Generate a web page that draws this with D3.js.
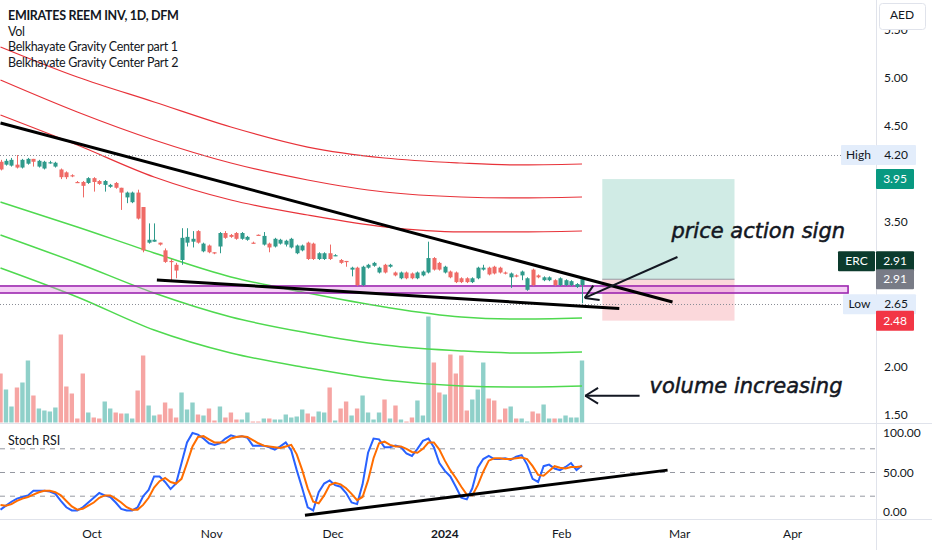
<!DOCTYPE html>
<html><head><meta charset="utf-8">
<script src="https://cdn.jsdelivr.net/npm/d3@7"></script>
<style>body{margin:0;background:#fff;overflow:hidden}svg{display:block}</style>
</head><body><svg id="c" width="932" height="550"></svg>
<script>
// ---------------- DATA ----------------
const opens=[4.13,4.10,4.09,4.10,4.07,4.11,4.16,4.08,4.06,4.12,4.08,4.05,4.02,3.99,3.92,3.92,3.91,3.96,3.93,3.89,
3.87,3.91,3.86,3.76,3.71,3.81,3.66,3.29,3.30,3.29,3.21,3.10,3.06,3.11,3.29,3.30,3.41,3.20,3.26,3.19,
3.25,3.39,3.37,3.39,3.33,3.32,3.29,3.372,3.27,3.28,3.25,3.28,3.27,3.24,3.18,3.21,3.29,3.28,3.12,3.12,
3.18,3.16,3.11,3.10,3.01,3.03,2.85,3.03,3.05,2.98,3.06,3.04,2.98,2.92,2.98,2.97,2.92,2.95,2.98,3.13,
3.08,2.98,2.99,2.98,2.92,2.92,2.88,2.92,3.01,3.03,3.04,3.03,2.98,2.93,2.95,2.95,2.80,3.01,2.95,2.90,
2.90,2.90,2.85,2.85,2.85,2.83,2.85];
const highs=[4.15,4.16,4.17,4.20,4.16,4.17,4.16,4.15,4.14,4.14,4.13,4.06,4.03,4.00,3.93,3.93,3.97,3.97,3.94,3.94,
3.90,3.92,3.86,3.82,3.82,3.84,3.66,3.49,3.49,3.29,3.23,3.12,3.08,3.44,3.44,3.41,3.42,3.29,3.27,3.19,
3.40,3.41,3.38,3.40,3.40,3.36,3.30,3.375,3.40,3.29,3.34,3.33,3.32,3.34,3.27,3.27,3.30,3.29,3.19,3.19,
3.27,3.17,3.12,3.10,3.04,3.04,3.05,3.07,3.09,3.04,3.07,3.07,2.99,2.99,2.99,2.98,2.99,3.00,3.30,3.14,
3.09,3.05,3.00,2.99,2.93,2.93,2.93,3.04,3.06,3.04,3.05,3.04,2.99,2.98,2.96,3.00,2.93,3.02,2.96,2.94,
2.94,2.91,2.93,2.91,2.90,2.87,2.93];
const lows=[4.04,4.09,4.08,4.06,4.06,4.10,4.08,4.07,4.05,4.11,4.07,3.95,3.95,3.97,3.91,3.76,3.90,3.82,3.89,3.82,
3.86,3.85,3.63,3.70,3.70,3.53,3.19,3.28,3.30,3.26,3.08,2.90,2.92,3.06,3.25,3.24,3.28,3.19,3.18,3.17,
3.18,3.33,3.34,3.32,3.32,3.31,3.28,3.365,3.26,3.19,3.24,3.27,3.25,3.23,3.17,3.20,3.11,3.11,3.11,3.11,
3.11,3.15,3.07,3.04,2.94,2.84,2.84,3.02,3.04,2.97,2.97,3.03,2.94,2.91,2.91,2.91,2.91,2.94,2.97,3.00,
3.00,2.97,2.92,2.87,2.87,2.87,2.87,2.91,3.00,2.95,2.96,2.97,2.96,2.82,2.93,2.90,2.79,2.84,2.92,2.89,
2.89,2.84,2.84,2.84,2.84,2.82,2.66];
const closes=[4.05,4.14,4.15,4.07,4.15,4.16,4.13,4.14,4.13,4.125,4.12,3.97,3.97,3.98,3.91,3.88,3.96,3.92,3.90,3.93,
3.89,3.86,3.81,3.81,3.81,3.54,3.21,3.32,3.32,3.27,3.09,3.09,3.00,3.34,3.35,3.33,3.29,3.28,3.19,3.18,
3.39,3.34,3.35,3.33,3.39,3.35,3.28,3.368,3.36,3.24,3.33,3.32,3.31,3.33,3.26,3.26,3.12,3.12,3.18,3.18,
3.12,3.16,3.08,3.09,3.03,2.85,3.04,3.06,3.08,3.03,2.98,3.06,2.95,2.98,2.92,2.92,2.98,2.99,3.13,3.01,
3.01,3.04,2.93,2.88,2.88,2.88,2.92,3.03,3.03,2.96,2.97,2.98,2.97,2.97,2.94,2.99,2.92,2.85,2.93,2.93,
2.93,2.85,2.92,2.90,2.89,2.86,2.91];
const volumes=[49,33,16,35,40,62,27,14,12,11,15,88,36,29,4,49,10,5,4,21,
14,10,9,9,4,32,67,17,7,8,20,14,5,30,13,20,8,7,14,2,
16,5,10,3,3,10,1,1,4,4,3,3,8,5,6,13,9,6,11,10,
35,2,14,21,7,14,27,10,3,10,23,4,17,3,1,5,22,7,106,60,
30,28,68,49,67,12,23,33,60,24,22,3,14,16,4,4,1,11,9,18,
4,4,4,7,5,5,62];
const stochK=[3,8,13,17,19,21,27,27,27,26,23,14,6,2,2,6,12,18,24,21,
19,12,4,2,2,6,20,28,45,45,38,29,36,62,88,100,98,93,87,85,
87,93,97,95,96,94,84,84,84,82,79,83,88,78,53,30,6,2,25,36,
40,34,32,24,12,10,35,75,93,92,82,82,84,82,74,71,80,90,93,82,
62,52,45,32,18,16,30,56,67,71,67,67,68,66,70,72,60,42,38,58,
60,55,53,57,62,53,59];
const stochD=[9,8,10,14,17,19,22,25,27,27,25,21,14,7,3,4,8,12,18,21,
21,17,12,6,3,3,9,18,31,39,43,38,36,42,62,83,95,96,92,88,
88,88,93,95,96,95,91,87,84,83,82,81,83,85,73,53,30,13,11,21,
34,37,35,30,23,15,19,40,68,87,89,85,83,83,80,76,75,80,88,88,
79,65,53,43,32,22,21,34,51,65,68,68,67,67,68,69,67,58,47,46,
52,58,56,55,57,57,58];
// Belkhayate gravity center bands (sampled at bar indices)
const gcBars=[0,14,28,42,56,70,84,94,106];
const gcRed1=[5.322,5.010,4.751,4.491,4.283,4.169,4.117,4.097,4.107];
const gcRed2=[4.979,4.647,4.356,4.117,3.941,3.816,3.764,3.754,3.764];
const gcRed3=[4.616,4.304,3.972,3.733,3.577,3.453,3.401,3.401,3.411];
const gcGreen1=[3.712,3.453,3.183,2.934,2.767,2.622,2.518,2.497,2.508];
const gcGreen2=[3.370,3.079,2.767,2.518,2.352,2.227,2.165,2.144,2.155];
const gcGreen3=[3.027,2.726,2.383,2.144,1.989,1.864,1.802,1.791,1.802];
// drawings
const upperTrend=[[0,4.533],[122.5,2.674]];
const lowerTrend=[[28.5,2.902],[112.8,2.606]];
const stochTrend=[[55.5,-4],[121.6,53]];
const zoneTop=2.84, zoneBottom=2.767, zoneBars=[-2,154.5];
const tradeBars=[109.7,133.8], entry=2.91, target=3.95, stop=2.48;
const highValue=4.20, lowValue=2.65, lastClose=2.91;
const priceArrow=[[123.4,3.141],[106.5,2.716]];
const volArrow=[[116.5,1.70],[106.6,1.70]];
const priceText={bar:122.3,p:3.339,text:"price action sign"};
const volText={bar:118.3,p:1.729,text:"volume increasing"};
const timeLabels=["Oct","Nov","Dec","2024","Feb","Mar","Apr"];
const timeBars=[16.7,38.5,60.6,81,102.3,123.8,144.4];
const priceTicks=[5.5,5,4.5,3.5,2,1.5];
const stochTicks=[100,50,0];
const stochLevels=[80,50,20];
const legend=["EMIRATES REEM INV, 1D, DFM","Vol","Belkhayate Gravity Center part 1","Belkhayate Gravity Center Part 2"];

// ---------------- LAYOUT ----------------
const W=932,H=550, plotR=876, mainB=423, stochT=424, stochB=519;
const svg=d3.select("#c");
const font="Lato, 'Noto Sans', sans-serif";
const x=d3.scaleLinear().domain([0,106]).range([0.5,582]);
const y=d3.scaleLinear().domain([1.5,5]).range([415,78]);
const yVol=d3.scaleLinear().domain([0,106]).range([422.5,316.5]);
const yS=d3.scaleLinear().domain([0,100]).range([512,433]);
const up="#2f9a8b", dn="#ef6a66";
const upV="#8fd0c9", dnV="#f6a5a3";

svg.append("rect").attr("width",W).attr("height",H).attr("fill","#fff");
const defs=svg.append("defs");
defs.append("clipPath").attr("id","cm").append("rect").attr("x",0).attr("y",0).attr("width",plotR).attr("height",mainB);
defs.append("clipPath").attr("id","cs").append("rect").attr("x",0).attr("y",stochT).attr("width",plotR).attr("height",stochB-stochT);
defs.append("clipPath").attr("id","ctop").append("rect").attr("x",877).attr("y",30).attr("width",55).attr("height",40);

const main=svg.append("g").attr("clip-path","url(#cm)");
const idx=d3.range(opens.length);
const bw=(x(1)-x(0));

// volume
main.append("g").selectAll("rect").data(idx).join("rect")
 .attr("x",i=>x(i)-bw*0.4).attr("width",bw*0.8)
 .attr("y",i=>yVol(volumes[i])).attr("height",i=>yVol(0)-yVol(volumes[i]))
 .attr("fill",i=>closes[i]>=opens[i]?upV:dnV);

// trade box
main.append("rect").attr("x",x(tradeBars[0])).attr("width",x(tradeBars[1])-x(tradeBars[0]))
 .attr("y",y(target)).attr("height",y(entry)-y(target)).attr("fill","#d0ebe5");
main.append("rect").attr("x",x(tradeBars[0])).attr("width",x(tradeBars[1])-x(tradeBars[0]))
 .attr("y",y(entry)).attr("height",y(stop)-y(entry)).attr("fill","#fbd8db");
main.append("line").attr("x1",x(tradeBars[0])).attr("x2",x(tradeBars[1])).attr("y1",y(entry)).attr("y2",y(entry))
 .attr("stroke","#9598a1").attr("stroke-width",1);

// gravity curves
const gl=d3.line().x((d,i)=>x(gcBars[i])).y(d=>y(d)).curve(d3.curveMonotoneX);
[gcRed1,gcRed2,gcRed3].forEach(s=>main.append("path").attr("d",gl(s)).attr("fill","none").attr("stroke","#e8333a").attr("stroke-width",1.2));
[gcGreen1,gcGreen2,gcGreen3].forEach(s=>main.append("path").attr("d",gl(s)).attr("fill","none").attr("stroke","#4fd94f").attr("stroke-width",1.5));

// dotted hi/lo
[highValue,lowValue].forEach(v=>main.append("line").attr("x1",0).attr("x2",plotR).attr("y1",Math.round(y(v))+0.5).attr("y2",Math.round(y(v))+0.5)
 .attr("stroke","#8a8d96").attr("stroke-width",1).attr("stroke-dasharray","1,2"));

// purple zone
main.append("rect").attr("x",x(zoneBars[0])).attr("width",x(zoneBars[1])-x(zoneBars[0]))
 .attr("y",y(zoneTop)).attr("height",y(zoneBottom)-y(zoneTop))
 .attr("fill","rgba(225,120,230,0.35)").attr("stroke","#9c27b0").attr("stroke-width",1.6);

// candles
const cg=main.append("g");
cg.selectAll("line").data(idx).join("line")
 .attr("x1",i=>Math.round(x(i))+0.5).attr("x2",i=>Math.round(x(i))+0.5)
 .attr("y1",i=>y(highs[i])).attr("y2",i=>y(lows[i]))
 .attr("stroke",i=>closes[i]>=opens[i]?up:dn).attr("stroke-width",1);
cg.selectAll("rect").data(idx).join("rect")
 .attr("x",i=>Math.round(x(i))+0.5-bw*0.37).attr("width",bw*0.74)
 .attr("y",i=>y(Math.max(opens[i],closes[i])))
 .attr("height",i=>Math.max(1.2,Math.abs(y(opens[i])-y(closes[i]))))
 .attr("fill",i=>closes[i]>=opens[i]?up:dn);

// trend lines
const tl=d3.line().x(d=>x(d[0])).y(d=>y(d[1]));
[upperTrend,lowerTrend].forEach(t=>main.append("path").attr("d",tl(t)).attr("stroke","#000").attr("stroke-width",3).attr("fill","none"));

// arrows
function arrow(g,pts,sy){
  const [a,b]=pts; const x1=x(a[0]),y1=sy(a[1]),x2=x(b[0]),y2=sy(b[1]);
  g.append("line").attr("x1",x1).attr("y1",y1).attr("x2",x2).attr("y2",y2).attr("stroke","#131722").attr("stroke-width",2);
  const ang=Math.atan2(y2-y1,x2-x1), L=15, sp=0.55;
  [ang+Math.PI-sp, ang+Math.PI+sp].forEach(t=>g.append("line").attr("x1",x2).attr("y1",y2)
    .attr("x2",x2+L*Math.cos(t)).attr("y2",y2+L*Math.sin(t)).attr("stroke","#131722").attr("stroke-width",2));
}
arrow(main,priceArrow,y);
arrow(main,volArrow,y);
[priceText,volText].forEach(t=>main.append("text").attr("x",x(t.bar)).attr("y",y(t.p)).text(t.text)
 .attr("font-family","'DejaVu Sans', sans-serif").attr("font-style","italic").attr("font-size",21)
 .attr("fill","#131722").attr("stroke","#131722").attr("stroke-width",0.5));

// ---------------- STOCH PANE ----------------
const st=svg.append("g").attr("clip-path","url(#cs)");
stochLevels.forEach(v=>st.append("line").attr("x1",0).attr("x2",plotR).attr("y1",yS(v)).attr("y2",yS(v))
 .attr("stroke","#9598a1").attr("stroke-width",1).attr("stroke-dasharray","5,5"));
const sl=d3.line().x((d,i)=>x(i)).y(d=>yS(d));
st.append("path").attr("d",sl(stochK)).attr("fill","none").attr("stroke","#2962ff").attr("stroke-width",2);
st.append("path").attr("d",sl(stochD)).attr("fill","none").attr("stroke","#ff6d00").attr("stroke-width",2);
st.append("path").attr("d",d3.line().x(d=>x(d[0])).y(d=>yS(d[1]))(stochTrend)).attr("stroke","#000").attr("stroke-width",3).attr("fill","none");
svg.append("text").attr("x",8).attr("y",445).text("Stoch RSI").attr("font-family",font).attr("font-size",12.5).attr("fill","#131722");

// ---------------- FRAMES ----------------
svg.append("line").attr("x1",0).attr("x2",W).attr("y1",mainB+0.5).attr("y2",mainB+0.5).attr("stroke","#e0e3eb");
svg.append("line").attr("x1",0).attr("x2",W).attr("y1",stochB+0.5).attr("y2",stochB+0.5).attr("stroke","#e0e3eb");
svg.append("line").attr("x1",plotR+0.5).attr("x2",plotR+0.5).attr("y1",0).attr("y2",H).attr("stroke","#e0e3eb");

// time axis
svg.append("g").selectAll("text").data(timeLabels).join("text")
 .attr("x",(d,i)=>x(timeBars[i])).attr("y",538).attr("text-anchor","middle")
 .attr("font-family",font).attr("font-size",12).attr("font-weight",d=>d==="2024"?"bold":"normal")
 .attr("fill","#131722").text(d=>d);

// price axis (top tick is partly hidden under the currency box)
const ptg=svg.append("g");
ptg.selectAll("text").data(priceTicks).join("text")
 .attr("x",884).attr("y",d=>y(d)+4).attr("font-family",font).attr("font-size",12).attr("fill","#131722")
 .attr("clip-path",d=>y(d)<40?"url(#ctop)":null)
 .text(d=>d.toFixed(2));
svg.append("g").selectAll("text").data(stochTicks).join("text")
 .attr("x",883).attr("y",d=>yS(d)+4).attr("font-family",font).attr("font-size",12).attr("fill","#131722")
 .text(d=>d.toFixed(2));

function tag(xl,w,yc,fill,txt,col){
  svg.append("rect").attr("x",xl).attr("y",yc-10).attr("width",w).attr("height",20).attr("fill",fill).attr("rx",1);
  svg.append("text").attr("x",xl+w/2).attr("y",yc+4).attr("text-anchor","middle").attr("font-family",font)
   .attr("font-size",12).attr("fill",col).text(txt);
}
tag(841,35,y(highValue),"#e3edfb","High","#131722");
tag(876,40,y(highValue),"#e3edfb",highValue.toFixed(2),"#131722");
tag(876,38,y(target),"#089981",target.toFixed(2),"#fff");
tag(838,37,y(lastClose)-18,"#0c3b2d","ERC","#fff");
tag(876,38,y(lastClose)-18,"#0c3b2d",lastClose.toFixed(2),"#fff");
tag(876,38,y(entry),"#787b86",entry.toFixed(2),"#fff");
tag(843,33,y(lowValue),"#e3edfb","Low","#131722");
tag(876,40,y(lowValue),"#e3edfb",lowValue.toFixed(2),"#131722");
tag(876,38,y(stop),"#f23645",stop.toFixed(2),"#fff");

// AED box
svg.append("rect").attr("x",879.5).attr("y",3.5).attr("width",46).attr("height",26).attr("rx",3)
 .attr("fill","#fff").attr("stroke","#e0e3eb");
svg.append("text").attr("x",902).attr("y",19).attr("text-anchor","middle").attr("font-family",font)
 .attr("font-size",12).attr("fill","#131722").text("AED");

// legend
svg.append("g").selectAll("text").data(legend).join("text")
 .attr("x",8).attr("y",(d,i)=>20+i*15.5).attr("font-family",font).attr("font-size",12.5)
 .attr("letter-spacing",-0.3)
 .attr("font-weight",(d,i)=>i===0?"bold":"normal").attr("fill","#131722").text(d=>d);
</script></body></html>
